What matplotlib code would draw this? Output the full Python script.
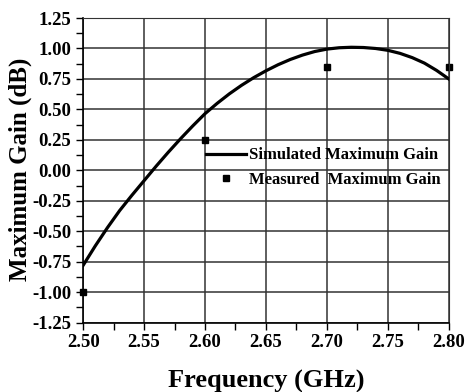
import numpy as np
from matplotlib import pyplot as plt
from matplotlib.ticker import MultipleLocator

# simulated gain sampled every 10 MHz
freq_sim = [2.50, 2.51, 2.52, 2.53, 2.54, 2.55, 2.56, 2.57, 2.58, 2.59, 2.60,
            2.61, 2.62, 2.63, 2.64, 2.65, 2.66, 2.67, 2.68, 2.69, 2.70,
            2.71, 2.72, 2.73, 2.74, 2.75, 2.76, 2.77, 2.78, 2.79, 2.80]
gain_sim = [-0.78, -0.62, -0.47, -0.33, -0.205, -0.085, 0.035, 0.15, 0.26, 0.365, 0.465,
            0.55, 0.628, 0.698, 0.761, 0.817, 0.867, 0.91, 0.946, 0.975, 0.995,
            1.006, 1.01, 1.008, 1.0, 0.985, 0.96, 0.925, 0.88, 0.82, 0.75]

# measured points
freq_meas = [2.50, 2.60, 2.70, 2.80]
gain_meas = [-1.00, 0.25, 0.85, 0.85]

plt.rcParams['font.family'] = 'Liberation Serif'
plt.rcParams['font.weight'] = 'bold'

fig = plt.figure(figsize=(4.67, 3.92), dpi=100)
ax = fig.add_axes([0.178, 0.177, 0.783, 0.777])

ax.plot(freq_sim, gain_sim, '-', c="black", lw=2.3, label="Simulated Maximum Gain")
ax.plot(freq_meas, gain_meas, 's', c="black", ms=5, clip_on=False,
        label="Measured  Maximum Gain")

ax.set_xlim(2.50, 2.80)
ax.set_ylim(-1.25, 1.25)
ax.xaxis.set_major_locator(MultipleLocator(0.05))
ax.xaxis.set_minor_locator(MultipleLocator(0.025))
ax.yaxis.set_major_locator(MultipleLocator(0.25))
ax.yaxis.set_minor_locator(MultipleLocator(0.125))
ax.xaxis.set_major_formatter(lambda v, p: "%.2f" % v)
ax.yaxis.set_major_formatter(lambda v, p: "%.2f" % v)
ax.grid(True, which='major', color="#333333", lw=1.1)
ax.tick_params(which='both', direction='out', length=5, width=1, labelsize=13.5)
ax.tick_params(which='both', top=False, right=False)
for s in ['top', 'right']:
    ax.spines[s].set_color("#333333")
for s in ['left', 'bottom']:
    ax.spines[s].set_linewidth(1.2)

ax.set_xlabel("Frequency (GHz)", fontsize=19, fontweight='bold', labelpad=13)
ax.set_ylabel("Maximum Gain (dB)", fontsize=18, fontweight='bold')
ax.yaxis.set_label_coords(-0.14, 0.504)

ax.legend(loc='center left', bbox_to_anchor=(0.3145, 0.509), frameon=False,
          fontsize=12, handlelength=2.35, handletextpad=0.2, labelspacing=0.5,
          borderpad=0)

plt.savefig("out.png", dpi=100)
plt.close()
